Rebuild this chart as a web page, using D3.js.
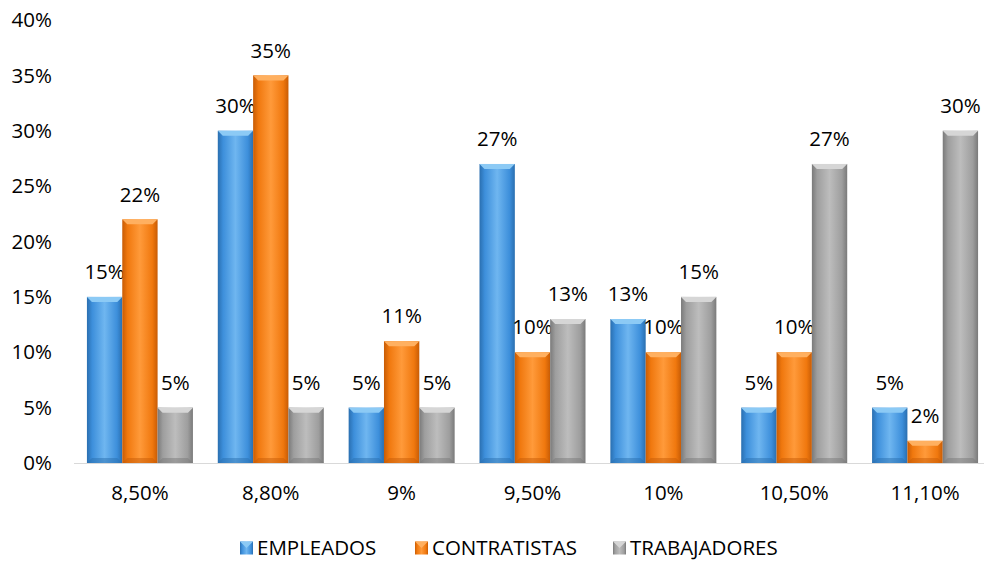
<!DOCTYPE html>
<html><head><meta charset="utf-8">
<script src="https://cdn.jsdelivr.net/npm/d3@7"></script>
<style>body{margin:0;background:#fff}svg{display:block}</style>
</head><body>
<svg id="c" width="984" height="561"></svg>
<script>
const categories = ["8,50%","8,80%","9%","9,50%","10%","10,50%","11,10%"];
const seriesNames = ["EMPLEADOS","CONTRATISTAS","TRABAJADORES"];
const empleados = [15,30,5,27,13,5,5];
const contratistas = [22,35,11,10,10,10,2];
const trabajadores = [5,5,5,13,15,27,30];
const yTicks = [0,5,10,15,20,25,30,35,40];

const seriesValues = [empleados, contratistas, trabajadores];
const colors = [
  {base:"#3d8fdb", light:"#6fb6f0", dark:"#2a6fb0", top:"#8ccaf5"},
  {base:"#f0780e", light:"#ff9a3a", dark:"#c85c05", top:"#ffb060"},
  {base:"#9e9e9e", light:"#bdbdbd", dark:"#7a7a7a", top:"#d6d6d6"}
];
const font = "'Open Sans', 'Noto Sans', sans-serif";
const fs = 20.5;
const svg = d3.select("#c");
const defs = svg.append("defs");
colors.forEach((c,i)=>{
  const g = defs.append("linearGradient").attr("id","g"+i).attr("x1","0").attr("x2","1").attr("y1","0").attr("y2","0");
  g.append("stop").attr("offset","0").attr("stop-color",c.dark);
  g.append("stop").attr("offset","0.15").attr("stop-color",c.base);
  g.append("stop").attr("offset","0.5").attr("stop-color",c.light);
  g.append("stop").attr("offset","0.85").attr("stop-color",c.base);
  g.append("stop").attr("offset","1").attr("stop-color",c.dark);
});

const x0 = d3.scaleBand().domain(categories).range([74.5, 990.5]).paddingInner(0.19).paddingOuter(0.095);
const x1 = d3.scaleBand().domain(seriesNames).range([0, x0.bandwidth()]);
const y = d3.scaleLinear().domain([0,40]).range([463,20]);

// y axis labels
svg.append("g").selectAll("text").data(yTicks).join("text")
  .attr("x",52).attr("y",d=>y(d)).attr("dy","0.35em").attr("text-anchor","end")
  .attr("font-family",font).attr("font-size",fs).attr("fill","#000").text(d=>d+"%");

// baseline
svg.append("line").attr("x1",74).attr("x2",992).attr("y1",y(0)+0.5).attr("y2",y(0)+0.5)
  .attr("stroke","#d9d9d9").attr("stroke-width",1);

// bars
const data = [];
categories.forEach((c,ci)=>seriesNames.forEach((s,si)=>data.push({c,s,si,v:seriesValues[si][ci]})));
const bars = svg.append("g").selectAll("g").data(data).join("g");
const bv = 5;
bars.append("rect")
  .attr("x",d=>x0(d.c)+x1(d.s)).attr("y",d=>y(d.v))
  .attr("width",x1.bandwidth()).attr("height",d=>y(0)-y(d.v))
  .attr("fill",(d)=>`url(#g${d.si})`);
bars.append("polygon")
  .attr("points",d=>{const X=x0(d.c)+x1(d.s),W=x1.bandwidth(),Y=y(d.v);
    return `${X},${Y} ${X+W},${Y} ${X+W-bv},${Y+bv} ${X+bv},${Y+bv}`;})
  .attr("fill",d=>colors[d.si].top);
bars.append("polygon")
  .attr("points",d=>{const X=x0(d.c)+x1(d.s),W=x1.bandwidth(),Y=y(d.v),B=y(0);
    return `${X},${B} ${X+W},${B} ${X+W-bv},${B-bv} ${X+bv},${B-bv}`;})
  .attr("fill",d=>colors[d.si].dark).attr("opacity",0.5);
// labels
bars.append("text")
  .attr("x",d=>x0(d.c)+x1(d.s)+x1.bandwidth()/2).attr("y",d=>y(d.v)-25).attr("dy","0.35em")
  .attr("text-anchor","middle").attr("font-family",font).attr("font-size",fs).attr("fill","#000")
  .text(d=>d.v+"%");

// x labels
svg.append("g").selectAll("text").data(categories).join("text")
  .attr("x",d=>x0(d)+x0.bandwidth()/2).attr("y",493).attr("dy","0.35em").attr("text-anchor","middle")
  .attr("font-family",font).attr("font-size",fs).attr("fill","#000").text(d=>d);

// legend
const legX = [240, 415, 613];
const leg = svg.append("g").selectAll("g").data(seriesNames).join("g")
  .attr("transform",(d,i)=>`translate(${legX[i]},548)`);
leg.append("rect").attr("x",0).attr("y",-6.5).attr("width",13).attr("height",13).attr("fill",(d,i)=>`url(#g${i})`);
leg.append("polygon").attr("points","0,-6.5 13,-6.5 6.5,0").attr("fill",(d,i)=>colors[i].top);
leg.append("text").attr("x",17).attr("y",0).attr("dy","0.35em").attr("font-family",font).attr("font-size",fs).attr("fill","#000").text(d=>d);
</script>
</body></html>
